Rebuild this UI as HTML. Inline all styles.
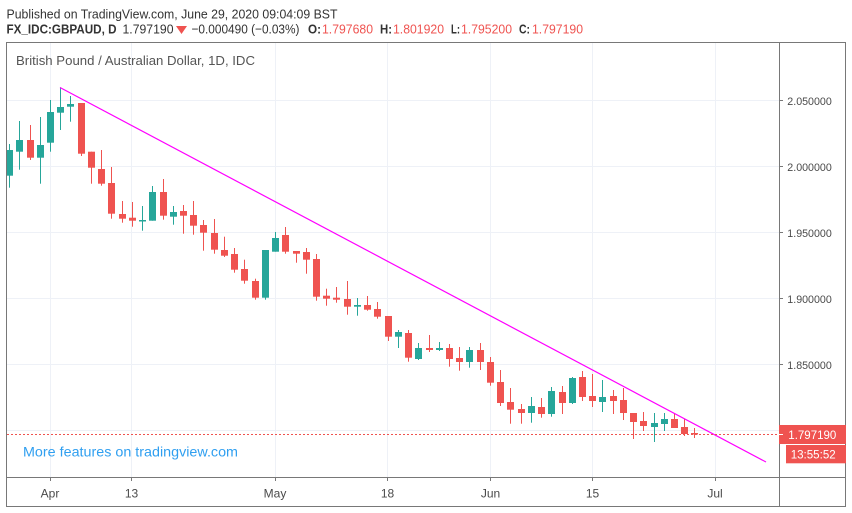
<!DOCTYPE html>
<html><head><meta charset="utf-8"><style>
html,body{margin:0;padding:0;background:#fff;overflow:hidden}
svg{display:block}
text{font-family:"Liberation Sans",Arial,sans-serif}
</style></head><body>
<svg xmlns="http://www.w3.org/2000/svg" width="852" height="513" viewBox="0 0 852 513">
<rect width="852" height="513" fill="#fff"/>
<!-- header -->
<text x="6.5" y="18.3" font-size="13" fill="#333" textLength="331" lengthAdjust="spacingAndGlyphs">Published on TradingView.com, June 29, 2020 09:04:09 BST</text>
<g font-size="13" fill="#333">
<text x="6.5" y="33.3" font-weight="bold" textLength="110" lengthAdjust="spacingAndGlyphs">FX_IDC:GBPAUD, D</text>
<text x="122.5" y="33.3" textLength="51" lengthAdjust="spacingAndGlyphs">1.797190</text>
<text x="191.5" y="33.3" textLength="108" lengthAdjust="spacingAndGlyphs">−0.000490 (−0.03%)</text>
<text x="308" y="33.3" font-weight="bold" textLength="13" lengthAdjust="spacingAndGlyphs">O:</text>
<text x="380" y="33.3" font-weight="bold" textLength="12" lengthAdjust="spacingAndGlyphs">H:</text>
<text x="451" y="33.3" font-weight="bold" textLength="9" lengthAdjust="spacingAndGlyphs">L:</text>
<text x="519" y="33.3" font-weight="bold" textLength="11" lengthAdjust="spacingAndGlyphs">C:</text>
</g>
<g font-size="13" fill="#ef5350">
<text x="322" y="33.3" textLength="51" lengthAdjust="spacingAndGlyphs">1.797680</text>
<text x="393" y="33.3" textLength="51" lengthAdjust="spacingAndGlyphs">1.801920</text>
<text x="461" y="33.3" textLength="51" lengthAdjust="spacingAndGlyphs">1.795200</text>
<text x="532" y="33.3" textLength="51" lengthAdjust="spacingAndGlyphs">1.797190</text>
</g>
<polygon points="176,26 187,26 181.5,34" fill="#ef5350"/>

<!-- gridlines -->
<g stroke="#eef1f7" stroke-width="1">
<line x1="7" y1="100.5" x2="779" y2="100.5"/>
<line x1="7" y1="166.5" x2="779" y2="166.5"/>
<line x1="7" y1="232.5" x2="779" y2="232.5"/>
<line x1="7" y1="298.5" x2="779" y2="298.5"/>
<line x1="7" y1="364.5" x2="779" y2="364.5"/>
<line x1="7" y1="430.5" x2="779" y2="430.5"/>
<line x1="50.5" y1="43" x2="50.5" y2="477"/>
<line x1="131.5" y1="43" x2="131.5" y2="477"/>
<line x1="275.5" y1="43" x2="275.5" y2="477"/>
<line x1="387.5" y1="43" x2="387.5" y2="477"/>
<line x1="490.5" y1="43" x2="490.5" y2="477"/>
<line x1="592.5" y1="43" x2="592.5" y2="477"/>
<line x1="715.5" y1="43" x2="715.5" y2="477"/>
</g>

<text x="16" y="65" font-size="13" fill="#555" textLength="239" lengthAdjust="spacingAndGlyphs">British Pound / Australian Dollar, 1D, IDC</text>

<defs><clipPath id="pane"><rect x="7" y="43" width="772" height="434"/></clipPath></defs>
<g clip-path="url(#pane)">
<!-- green candles -->
<g fill="#26a69a">
<rect x="9" y="144" width="1" height="43.7"/><rect x="6" y="150" width="7" height="25.7"/>
<rect x="19" y="121" width="1" height="48.7"/><rect x="16" y="140" width="7" height="11.7"/>
<rect x="40" y="117" width="1" height="66.7"/><rect x="37" y="145" width="7" height="12.7"/>
<rect x="50" y="100" width="1" height="51.7"/><rect x="47" y="112" width="7" height="30.7"/>
<rect x="60" y="87.3" width="1" height="42.7"/><rect x="57" y="107" width="7" height="5.7"/>
<rect x="70" y="96" width="1" height="25.7"/><rect x="67" y="104" width="7" height="2.7"/>
<rect x="142" y="206" width="1" height="24.7"/><rect x="139" y="220" width="7" height="1.5"/>
<rect x="152" y="186" width="1" height="34.7"/><rect x="149" y="192" width="7" height="28.7"/>
<rect x="173" y="206" width="1" height="18.7"/><rect x="170" y="212" width="7" height="4.7"/>
<rect x="265" y="250" width="1" height="49.7"/><rect x="262" y="250" width="7" height="47.7"/>
<rect x="275" y="232" width="1" height="19.7"/><rect x="272" y="238" width="7" height="13.7"/>
<rect x="357" y="298" width="1" height="17.7"/><rect x="354" y="305" width="7" height="1.7"/>
<rect x="398" y="330" width="1" height="18"/><rect x="395" y="332" width="7" height="4.7"/>
<rect x="418" y="343" width="1" height="17"/><rect x="415" y="348" width="7" height="11"/>
<rect x="439" y="342" width="1" height="9"/><rect x="436" y="348" width="7" height="2"/>
<rect x="469" y="347" width="1" height="20.7"/><rect x="466" y="350" width="7" height="12"/>
<rect x="531" y="397" width="1" height="25.7"/><rect x="528" y="406" width="7" height="7"/>
<rect x="551" y="387" width="1" height="29.7"/><rect x="548" y="391" width="7" height="23"/>
<rect x="572" y="377" width="1" height="27"/><rect x="569" y="378" width="7" height="25"/>
<rect x="602" y="380" width="1" height="32"/><rect x="599" y="397" width="7" height="5"/>
<rect x="654" y="413" width="1" height="29"/><rect x="651" y="423" width="7" height="4"/>
<rect x="664" y="413" width="1" height="18"/><rect x="661" y="419" width="7" height="5"/>
</g>
<!-- red candles -->
<g fill="#ef5350">
<rect x="30" y="125" width="1" height="35"/><rect x="27" y="140" width="7" height="17.7"/>
<rect x="81" y="103" width="1" height="53"/><rect x="78" y="103" width="7" height="50.7"/>
<rect x="91" y="151.7" width="1" height="32"/><rect x="88" y="151.7" width="7" height="16"/>
<rect x="101" y="150" width="1" height="35.7"/><rect x="98" y="169" width="7" height="14.7"/>
<rect x="111" y="167" width="1" height="51.7"/><rect x="108" y="183" width="7" height="30.7"/>
<rect x="122" y="201" width="1" height="21.7"/><rect x="119" y="214" width="7" height="4.7"/>
<rect x="132" y="202" width="1" height="24.7"/><rect x="129" y="217.7" width="7" height="3"/>
<rect x="163" y="179" width="1" height="40.7"/><rect x="160" y="192" width="7" height="23.7"/>
<rect x="183" y="205" width="1" height="28.7"/><rect x="180" y="211" width="7" height="4.7"/>
<rect x="193" y="201" width="1" height="33.7"/><rect x="190" y="215" width="7" height="10.7"/>
<rect x="203" y="220" width="1" height="30.7"/><rect x="200" y="225" width="7" height="7.7"/>
<rect x="214" y="219" width="1" height="34.7"/><rect x="211" y="233" width="7" height="16.7"/>
<rect x="224" y="236.7" width="1" height="20.3"/><rect x="221" y="250" width="7" height="5.7"/>
<rect x="234" y="248" width="1" height="24.7"/><rect x="231" y="254" width="7" height="15.7"/>
<rect x="244" y="259.7" width="1" height="24"/><rect x="241" y="269" width="7" height="11.7"/>
<rect x="255" y="278.7" width="1" height="21"/><rect x="252" y="281" width="7" height="16.7"/>
<rect x="285" y="227" width="1" height="26.7"/><rect x="282" y="235" width="7" height="16.7"/>
<rect x="296" y="251" width="1" height="11.7"/><rect x="293" y="251" width="7" height="2.7"/>
<rect x="306" y="248" width="1" height="25.7"/><rect x="303" y="252" width="7" height="7.7"/>
<rect x="316" y="254" width="1" height="46.7"/><rect x="313" y="259" width="7" height="37.7"/>
<rect x="326" y="288.7" width="1" height="17"/><rect x="323" y="295.7" width="7" height="3"/>
<rect x="336" y="287" width="1" height="15.7"/><rect x="333" y="297.7" width="7" height="2"/>
<rect x="347" y="281" width="1" height="33.7"/><rect x="344" y="299" width="7" height="7.7"/>
<rect x="367" y="296" width="1" height="14.7"/><rect x="364" y="305" width="7" height="4.7"/>
<rect x="377" y="302" width="1" height="16.7"/><rect x="374" y="309" width="7" height="7.7"/>
<rect x="388" y="316" width="1" height="25"/><rect x="385" y="316" width="7" height="20.7"/>
<rect x="408" y="330" width="1" height="31.7"/><rect x="405" y="333" width="7" height="24.7"/>
<rect x="429" y="335" width="1" height="17"/><rect x="426" y="348" width="7" height="2"/>
<rect x="449" y="344" width="1" height="22.7"/><rect x="446" y="348" width="7" height="11"/>
<rect x="459" y="347" width="1" height="23.7"/><rect x="456" y="358" width="7" height="4"/>
<rect x="480" y="343" width="1" height="27"/><rect x="477" y="350" width="7" height="12"/>
<rect x="490" y="357" width="1" height="28.7"/><rect x="487" y="362" width="7" height="20.7"/>
<rect x="500" y="370" width="1" height="36"/><rect x="497" y="382" width="7" height="21"/>
<rect x="510" y="388" width="1" height="35.7"/><rect x="507" y="402" width="7" height="7.7"/>
<rect x="521" y="404" width="1" height="19.7"/><rect x="518" y="409" width="7" height="4"/>
<rect x="541" y="398" width="1" height="19.7"/><rect x="538" y="407" width="7" height="7"/>
<rect x="562" y="386" width="1" height="28"/><rect x="559" y="392" width="7" height="11"/>
<rect x="582" y="371" width="1" height="30"/><rect x="579" y="377" width="7" height="20"/>
<rect x="592" y="374" width="1" height="33"/><rect x="589" y="396" width="7" height="5"/>
<rect x="613" y="390" width="1" height="24"/><rect x="610" y="396" width="7" height="5"/>
<rect x="623" y="388" width="1" height="32"/><rect x="620" y="400" width="7" height="13"/>
<rect x="633" y="413" width="1" height="26"/><rect x="630" y="413" width="7" height="9"/>
<rect x="643" y="412" width="1" height="19"/><rect x="640" y="421" width="7" height="5"/>
<rect x="674" y="413" width="1" height="15"/><rect x="671" y="419" width="7" height="9"/>
<rect x="684" y="419" width="1" height="17"/><rect x="681" y="427" width="7" height="7"/>
<rect x="694" y="428" width="1" height="10"/><rect x="691" y="433" width="7" height="1.5"/>
</g>
<!-- trend line -->
<line x1="60" y1="87.5" x2="766" y2="462" stroke="#ff00ff" stroke-width="1.2"/>
<!-- last price dashed line -->
<line x1="7" y1="434.5" x2="779" y2="434.5" stroke="#ef5350" stroke-width="1" stroke-dasharray="2,2"/>
</g>

<text x="23" y="456.7" font-size="14" fill="#2f9ff0" textLength="215" lengthAdjust="spacingAndGlyphs">More features on tradingview.com</text>

<!-- borders -->
<g stroke="#787878" stroke-width="1" fill="none">
<rect x="6.5" y="42.5" width="839" height="464"/>
<line x1="779.5" y1="42.5" x2="779.5" y2="506.5"/>
<line x1="6.5" y1="477.5" x2="845.5" y2="477.5"/>
</g>
<!-- ticks -->
<g stroke="#787878" stroke-width="1">
<line x1="779" y1="100.5" x2="783" y2="100.5"/>
<line x1="779" y1="166.5" x2="783" y2="166.5"/>
<line x1="779" y1="232.5" x2="783" y2="232.5"/>
<line x1="779" y1="298.5" x2="783" y2="298.5"/>
<line x1="779" y1="364.5" x2="783" y2="364.5"/>
<line x1="50.5" y1="477" x2="50.5" y2="481"/>
<line x1="131.5" y1="477" x2="131.5" y2="481"/>
<line x1="275.5" y1="477" x2="275.5" y2="481"/>
<line x1="387.5" y1="477" x2="387.5" y2="481"/>
<line x1="490.5" y1="477" x2="490.5" y2="481"/>
<line x1="592.5" y1="477" x2="592.5" y2="481"/>
<line x1="715.5" y1="477" x2="715.5" y2="481"/>
</g>
<!-- price axis labels -->
<g font-size="11" fill="#4a4a4a">
<text x="787.3" y="105" textLength="44.5" lengthAdjust="spacingAndGlyphs">2.050000</text>
<text x="787.3" y="171" textLength="44.5" lengthAdjust="spacingAndGlyphs">2.000000</text>
<text x="787.3" y="237" textLength="44.5" lengthAdjust="spacingAndGlyphs">1.950000</text>
<text x="787.3" y="303" textLength="44.5" lengthAdjust="spacingAndGlyphs">1.900000</text>
<text x="787.3" y="369" textLength="44.5" lengthAdjust="spacingAndGlyphs">1.850000</text>
</g>
<!-- time axis labels -->
<g font-size="12" fill="#4a4a4a" text-anchor="middle">
<text x="50" y="497.3">Apr</text>
<text x="131.5" y="497.3">13</text>
<text x="275" y="497.3">May</text>
<text x="387.5" y="497.3">18</text>
<text x="490.5" y="497.3">Jun</text>
<text x="592.5" y="497.3">15</text>
<text x="715" y="497.3">Jul</text>
</g>
<!-- current price labels -->
<rect x="779" y="425" width="67" height="19" fill="#ef5350"/>
<line x1="779" y1="434.5" x2="783" y2="434.5" stroke="#fff" stroke-width="1"/>
<text x="788.3" y="439" font-size="12" fill="#fff" textLength="48" lengthAdjust="spacingAndGlyphs">1.797190</text>
<rect x="786" y="445" width="60" height="18.3" fill="#ef5350"/>
<text x="790.7" y="458.3" font-size="12" fill="#fff" textLength="45" lengthAdjust="spacingAndGlyphs">13:55:52</text>
</svg>
</body></html>
